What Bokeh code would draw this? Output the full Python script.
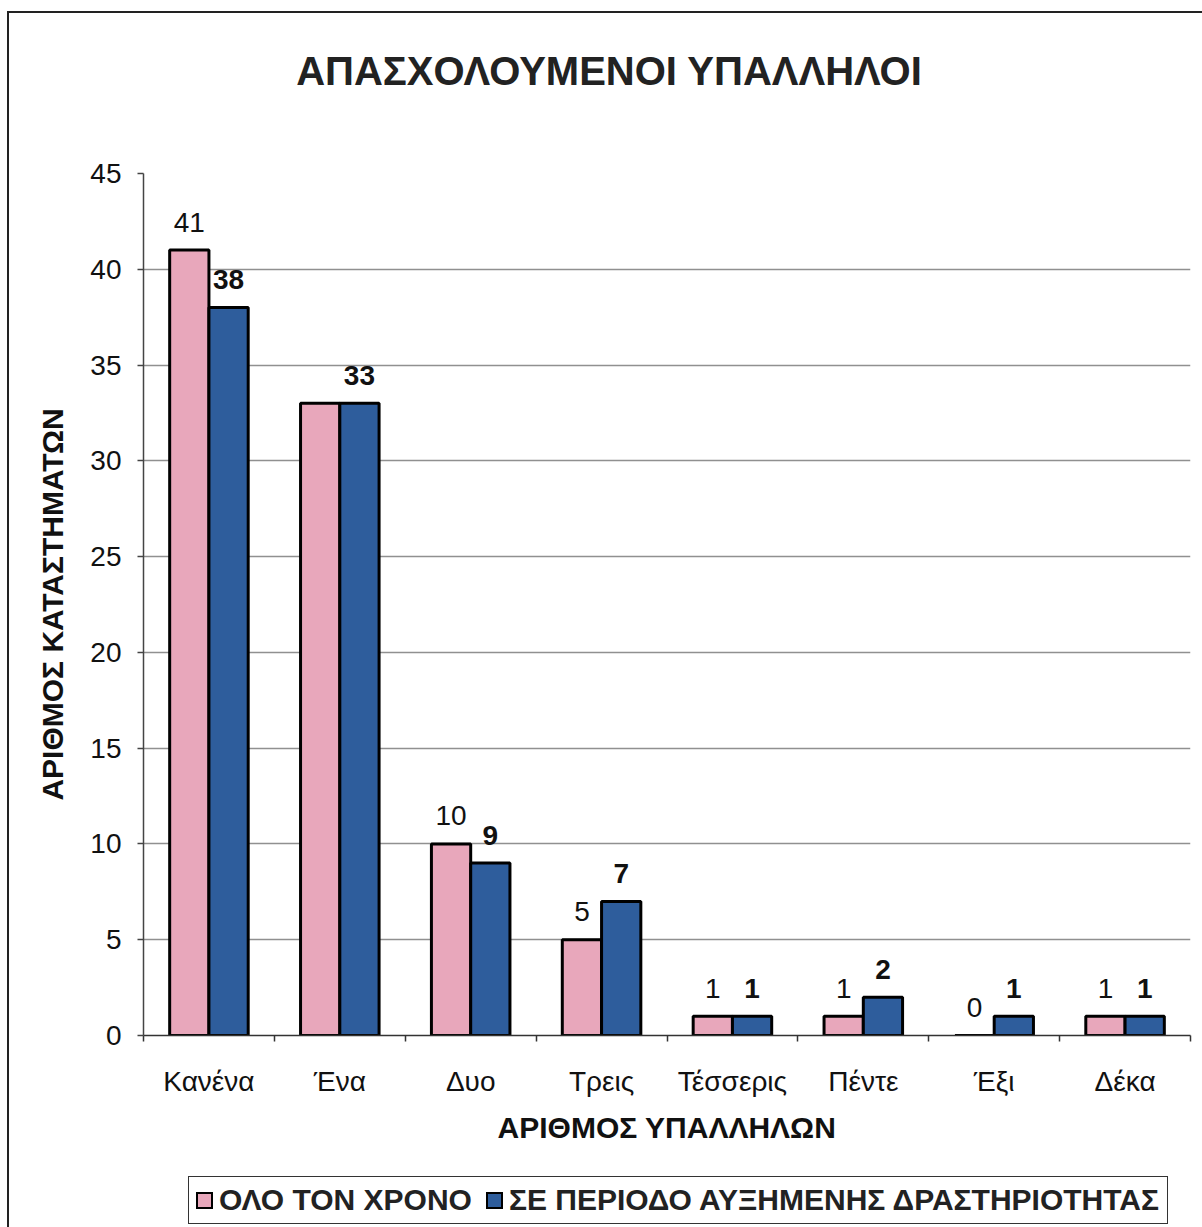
from bokeh.plotting import figure
from bokeh.layouts import column
from bokeh.models import (Range1d, LinearAxis, FixedTicker, Div, ColumnDataSource)
from bokeh.transform import dodge
from bokeh.core.properties import value
from bokeh.embed import file_html
from bokeh.resources import INLINE

# ---- data ----
categories = ["Κανένα", "Ένα", "Δυο", "Τρεις", "Τέσσερις", "Πέντε", "Έξι", "Δέκα"]
whole_year = [41, 33, 10, 5, 1, 1, 0, 1]
busy_period = [38, 33, 9, 7, 1, 2, 1, 1]
series_names = ["ΟΛΟ ΤΟΝ ΧΡΟΝΟ", "ΣΕ ΠΕΡΙΟΔΟ ΑΥΞΗΜΕΝΗΣ ΔΡΑΣΤΗΡΙΟΤΗΤΑΣ"]
y_ticks = [0, 5, 10, 15, 20, 25, 30, 35, 40, 45]
title_text = "ΑΠΑΣΧΟΛΟΥΜΕΝΟΙ ΥΠΑΛΛΗΛΟΙ"
y_label = "ΑΡΙΘΜΟΣ ΚΑΤΑΣΤΗΜΑΤΩΝ"
x_label = "ΑΡΙΘΜΟΣ ΥΠΑΛΛΗΛΩΝ"

# labels: in the reference only one "33" label is visible for Ένα
whole_labels = [str(v) for v in whole_year]
whole_labels[1] = ""
busy_labels = [str(v) for v in busy_period]

n = len(categories)
centers = [i + 0.5 for i in range(n)]          # category slot centres
boundaries = list(range(n + 1))                # category slot edges

PINK = "#E8A7BB"
BLUE = "#2E5D9C"
FONT = "Liberation Sans"
series_colors = [PINK, BLUE]

src = ColumnDataSource(dict(x=centers, whole=whole_year, busy=busy_period,
                            wl=whole_labels, bl=busy_labels))

title_div = Div(text=(f'<div style="font-family: \'{FONT}\'; font-size: 40px; font-weight: bold; '
                      f'color: #222; text-align: center; width: 1190px; '
                      f'box-sizing: border-box; line-height: 46px; padding-top: 30px;">'
                      f'{title_text}</div>'),
                width=1190, height=90)

p = figure(frame_width=1047, frame_height=862, x_range=Range1d(0, n),
           y_range=Range1d(0, 45), x_axis_location=None,
           output_backend="svg", toolbar_location=None,
           min_border_left=134, min_border_right=9, min_border_top=60, min_border_bottom=100)
p.outline_line_color = None
p.background_fill_color = "white"
p.border_fill_color = "white"

r1 = p.vbar(x=dodge("x", -0.15), top="whole", width=0.30, source=src,
            fill_color=PINK, line_color="black", line_width=3)
r2 = p.vbar(x=dodge("x", 0.15), top="busy", width=0.30, source=src,
            fill_color=BLUE, line_color="black", line_width=3)

p.text(x=dodge("x", -0.15), y="whole", text="wl", source=src,
       text_font=value(FONT), text_font_size="28px", text_align="center",
       text_baseline="alphabetic", y_offset=-28, text_color="#111")
p.text(x=dodge("x", 0.15), y="busy", text="bl", source=src,
       text_font=value(FONT), text_font_size="28px", text_font_style="bold",
       text_align="center", text_baseline="alphabetic", y_offset=-28, text_color="#111")

# y axis
ya = p.yaxis[0]
ya.ticker = FixedTicker(ticks=y_ticks)
ya.major_label_text_font = FONT
ya.major_label_text_font_size = "28px"
ya.major_label_text_color = "#111"
ya.major_tick_out = 6
ya.major_tick_in = 0
ya.minor_tick_line_color = None
ya.major_label_standoff = 16
ya.axis_line_color = "#444"
ya.axis_line_width = 1.5
ya.major_tick_line_color = "#444"
ya.major_tick_line_width = 1.5
ya.axis_label = y_label
ya.axis_label_text_font = FONT
ya.axis_label_text_font_size = "30px"
ya.axis_label_text_font_style = "bold"
ya.axis_label_text_color = "#111"
ya.axis_label_standoff = 18

p.ygrid.ticker = FixedTicker(ticks=y_ticks)
p.ygrid.grid_line_color = "#909090"
p.ygrid.grid_line_width = 1.5
p.xgrid.grid_line_color = None

# x axis: labels at slot centres, small tick marks at slot edges (minor ticks)
xa = LinearAxis(ticker=FixedTicker(ticks=centers, minor_ticks=boundaries),
                major_label_overrides={c: lab for c, lab in zip(centers, categories)},
                axis_line_color="#333", axis_line_width=1.5,
                major_tick_line_color=None,
                minor_tick_line_color="#333", minor_tick_line_width=1.5,
                minor_tick_out=6, minor_tick_in=0,
                major_label_text_font=FONT, major_label_text_font_size="28px",
                major_label_text_color="#111", major_label_standoff=24,
                axis_label=x_label, axis_label_text_font=FONT,
                axis_label_text_font_size="30px", axis_label_text_font_style="bold",
                axis_label_text_color="#111", axis_label_standoff=11)
p.add_layout(xa, "below")

# legend box below the chart (real text, swatches in the series colours)
items_html = ""
for i, (name, col) in enumerate(zip(series_names, series_colors)):
    ml = "14px" if i > 0 else "0px"
    items_html += (f'<span style="display:inline-block; width:17px; height:17px; background:{col}; '
                   f'border:2.5px solid #000; margin-left:{ml}; margin-right:6px;"></span>'
                   f'<span>{name}</span>')
legend_div = Div(text=(f'<div style="padding-top: 25px; padding-left: 174px;">'
                       f'<div style="display: inline-flex; align-items: center; '
                       f'border: 1.5px solid #333; padding: 6px 8px 6px 7px; background: white; '
                       f'font-family: \'{FONT}\'; font-size: 30px; font-weight: bold; color: #222; '
                       f'line-height: 34px; white-space: nowrap;">{items_html}</div></div>'),
                 width=1190, height=80)

layout = column(title_div, p, legend_div, spacing=0,
                styles={"margin-left": "7px", "margin-top": "11px",
                        "border-left": "2px solid #222", "border-top": "2px solid #222"})

open("out.html", "w").write(file_html(layout, INLINE))
